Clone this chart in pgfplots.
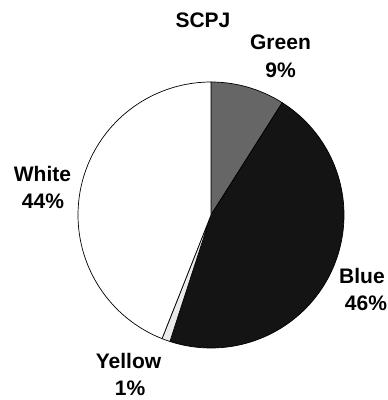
\documentclass[border=0pt]{standalone}
\usepackage{pgfplots}
\pgfplotsset{compat=1.18}
\usepackage{fontspec}
\setmainfont{Liberation Sans}

\definecolor{sliceGreen}{HTML}{666666}
\definecolor{sliceBlue}{HTML}{141414}
\definecolor{sliceYellow}{HTML}{EBEBEB}
\definecolor{sliceWhite}{HTML}{FFFFFF}

% shares in percent, clockwise from 12 o'clock
\def\pGreen{9}
\def\pBlue{46}
\def\pYellow{1}
\def\pWhite{44}
\def\R{133}

\begin{document}
\begin{tikzpicture}[x=1pt,y=1pt]
\path (0,0) rectangle (387,400);
% slice boundaries in degrees
\pgfmathsetmacro\aA{90}
\pgfmathsetmacro\aB{\aA-3.6*\pGreen}
\pgfmathsetmacro\aC{\aB-3.6*\pBlue}
\pgfmathsetmacro\aD{\aC-3.6*\pYellow}
\pgfmathsetmacro\aE{\aD-3.6*\pWhite}
\begin{axis}[
  x=1pt, y=1pt, hide axis, clip=false,
  xmin=-140, xmax=140, ymin=-140, ymax=140,
  anchor=origin, at={(211pt,185pt)},
  every axis plot/.append style={draw=black, line width=0.7pt, samples=90, variable=\t},
]
\addplot[fill=sliceGreen, domain=\aB:\aA] ({\R*cos(\t)},{\R*sin(\t)}) -- (axis cs:0,0) -- cycle;
\addplot[fill=sliceBlue, domain=\aC:\aB] ({\R*cos(\t)},{\R*sin(\t)}) -- (axis cs:0,0) -- cycle;
\addplot[fill=sliceYellow, domain=\aD:\aC, samples=5] ({\R*cos(\t)},{\R*sin(\t)}) -- (axis cs:0,0) -- cycle;
\addplot[fill=sliceWhite, domain=\aE:\aD] ({\R*cos(\t)},{\R*sin(\t)}) -- (axis cs:0,0) -- cycle;
\end{axis}
\begin{scope}[every node/.style={anchor=base, inner sep=0pt, font=\fontsize{21}{25}\selectfont\bfseries}]
\node at (203,372) {SCPJ};
\node at (280.5,350) {Green};
\node at (280.5,322) {9\%};
\node at (42.5,218) {White};
\node at (43,191) {44\%};
\node at (362,117) {Blue};
\node at (366,89) {46\%};
\node at (128.5,31) {Yellow};
\node at (130,5) {1\%};
\end{scope}
\end{tikzpicture}
\end{document}
